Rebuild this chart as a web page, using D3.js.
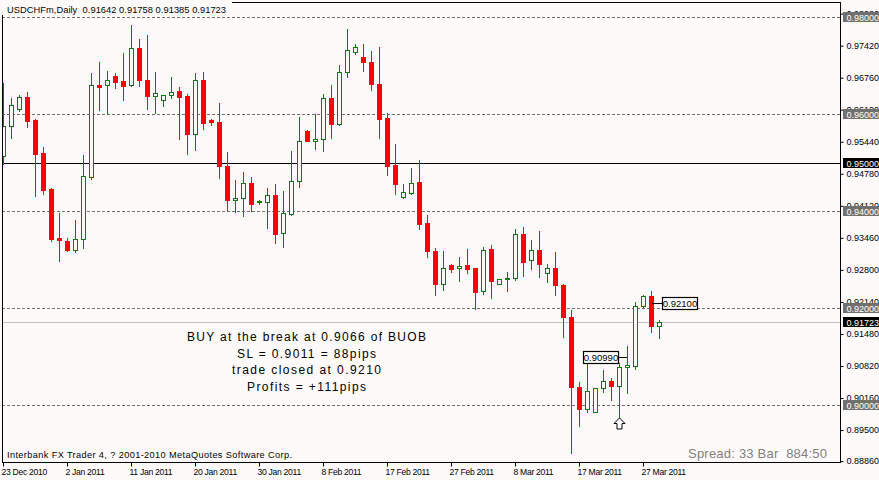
<!DOCTYPE html>
<html><head><meta charset="utf-8">
<script src="https://cdn.jsdelivr.net/npm/d3@7"></script>
<style>html,body{margin:0;padding:0;background:#FFFAFA;}svg{display:block}</style>
</head><body><svg id="c" width="879" height="480"></svg>
<script>
// ---------------- data ----------------
const opens = [0.9513,0.9575,0.9611,0.9635,0.9588,0.9520,0.9446,0.9345,0.9339,0.9319,
0.9342,0.9471,0.9660,0.9659,0.9678,0.9668,0.9659,0.9736,0.9670,0.9638,
0.9628,0.9639,0.9648,0.9638,0.9558,0.9670,0.9588,0.9584,0.9493,0.9422,
0.9427,0.9459,0.9419,0.9418,0.9433,0.9354,0.9394,0.9462,0.9565,0.9545,
0.9548,0.9633,0.9580,0.9686,0.9727,0.9718,0.9707,0.9662,0.9592,0.9495,
0.9430,0.9437,0.9460,0.9376,0.9318,0.9249,0.9290,0.9282,0.9289,0.9282,
0.9235,0.9321,0.9249,0.9260,0.9263,0.9352,0.9299,0.9320,0.9272,0.9282,
0.9248,0.9182,0.9038,0.8993,0.8987,0.9035,0.9050,0.9040,0.9078,0.9081,
0.9205,0.9225,0.91642];
const highs = [0.9663,0.9633,0.9639,0.9645,0.9590,0.9532,0.9448,0.9396,0.9345,0.9382,
0.9516,0.9684,0.9707,0.9689,0.9685,0.9726,0.9784,0.9755,0.9763,0.9686,
0.9639,0.9676,0.9656,0.9641,0.9685,0.9686,0.9590,0.9623,0.9522,0.9464,
0.9481,0.9470,0.9422,0.9448,0.9456,0.9442,0.9524,0.9594,0.9567,0.9600,
0.9641,0.9660,0.9701,0.9775,0.9744,0.9744,0.9730,0.9738,0.9602,0.9538,
0.9456,0.9489,0.9505,0.9392,0.9324,0.9318,0.9292,0.9305,0.9322,0.9283,
0.9326,0.9330,0.9261,0.9275,0.9363,0.9367,0.9341,0.9359,0.9292,0.9315,
0.9250,0.9196,0.9048,0.9089,0.9036,0.9072,0.9056,0.9087,0.9122,0.9213,
0.9228,0.9235,0.91758];
const lows = [0.9497,0.9551,0.9606,0.9573,0.9431,0.9436,0.9339,0.9298,0.9318,0.9316,
0.9325,0.9467,0.9609,0.9600,0.9654,0.9630,0.9658,0.9658,0.9611,0.9603,
0.9617,0.9634,0.9549,0.9518,0.9525,0.9570,0.9577,0.9469,0.9403,0.9399,
0.9389,0.9400,0.9414,0.9366,0.9335,0.9327,0.9393,0.9450,0.9544,0.9529,
0.9523,0.9551,0.9578,0.9677,0.9724,0.9689,0.9650,0.9551,0.9475,0.9435,
0.9428,0.9436,0.9364,0.9306,0.9228,0.9238,0.9275,0.9257,0.9273,0.9199,
0.9230,0.9222,0.9249,0.9235,0.9258,0.9267,0.9280,0.9265,0.9255,0.9228,
0.9140,0.8902,0.8958,0.8987,0.8986,0.9028,0.9010,0.8975,0.9026,0.9075,
0.9202,0.9150,0.91385];
const closes = [0.9575,0.9619,0.9635,0.9586,0.9518,0.9444,0.9343,0.9341,0.9319,0.9342,
0.9472,0.9659,0.9656,0.9670,0.9667,0.9658,0.9736,0.9670,0.9638,0.9643,
0.9639,0.9645,0.9636,0.9558,0.9670,0.9582,0.9583,0.9492,0.9422,0.9427,
0.9459,0.9415,0.9420,0.9433,0.9352,0.9396,0.9462,0.9544,0.9545,0.9549,
0.9633,0.9580,0.9686,0.9731,0.9738,0.9707,0.9661,0.9590,0.9494,0.9455,
0.9440,0.9459,0.9374,0.9317,0.9249,0.9282,0.9281,0.9288,0.9281,0.9234,
0.9319,0.9257,0.9261,0.9262,0.9352,0.9296,0.9319,0.9291,0.9282,0.9247,
0.9181,0.9037,0.8993,0.9029,0.9036,0.9050,0.9040,0.9078,0.9082,0.9204,
0.9225,0.9164,0.91723];

const dateLabels = ["23 Dec 2010","2 Jan 2011","11 Jan 2011","20 Jan 2011","30 Jan 2011",
  "8 Feb 2011","17 Feb 2011","27 Feb 2011","8 Mar 2011","17 Mar 2011","27 Mar 2011"];
const dateLabelBars = [0,8,16,24,32,40,48,56,64,72,80];
const priceTicks = [0.98080,0.97420,0.96760,0.96100,0.95440,0.94780,0.94120,0.93460,
  0.92800,0.92140,0.91480,0.90820,0.90160,0.89500,0.88860];
const dashedLevels = [0.98,0.96,0.94,0.92,0.90];
const solidLevels = [0.95];
const bidLevel = 0.91723;
const titleText = "USDCHFm,Daily  0.91642 0.91758 0.91385 0.91723";
const noteLines = ["BUY at the break at 0.9066 of BUOB","SL = 0.9011 = 88pips",
  "trade closed at 0.9210","Profits = +111pips"];
const noteWidths = [239,139,149,119];
const priceLabels = [{price:0.92100, bar:81, side:"right"},{price:0.90990, bar:78, side:"left"}];
const arrowBar = 77;
const footerText = "Interbank FX Trader 4, ? 2001-2010 MetaQuotes Software Corp.";
const spreadText = "Spread: 33 Bar  884:50";

// ---------------- drawing ----------------
const BG = "#FFFAFA", GREEN = "#008000", RED = "#FF0000", LINE = "#707070";
const FONT = "'Liberation Sans', Arial, sans-serif";
const svg = d3.select("#c");
svg.append("rect").attr("width",879).attr("height",480).attr("fill",BG);

const n = closes.length;
const x = d3.scaleLinear().domain([0, n-1]).range([3, 659]);
const y = d3.scaleLinear().domain([0.88811, 0.98309]).range([463, 2]);
const px = i => Math.round(x(i));
const py = p => Math.round(y(p));

const defs = svg.append("defs");
defs.append("clipPath").attr("id","plot").append("rect").attr("x",3).attr("y",3).attr("width",837).attr("height",459);

// horizontal levels
const lines = svg.append("g").attr("clip-path","url(#plot)");
lines.selectAll(".dl").data(dashedLevels).join("line")
  .attr("x1",2).attr("x2",840).attr("y1",d=>py(d)+0.5).attr("y2",d=>py(d)+0.5)
  .attr("stroke",LINE).attr("stroke-dasharray","3,2");
lines.selectAll(".sl").data(solidLevels).join("line")
  .attr("x1",2).attr("x2",840).attr("y1",d=>py(d)+0.5).attr("y2",d=>py(d)+0.5)
  .attr("stroke","#000");
lines.append("line").attr("x1",2).attr("x2",840)
  .attr("y1",py(bidLevel)+0.5).attr("y2",py(bidLevel)+0.5).attr("stroke","#C0C0C0");

// candles
const data = d3.range(n).map(i=>({i,o:opens[i],h:highs[i],l:lows[i],c:closes[i]}));
const cg = svg.append("g").attr("clip-path","url(#plot)");
const cs = cg.selectAll("g.c").data(data).join("g");
cs.append("line")
  .attr("x1",d=>px(d.i)+0.5).attr("x2",d=>px(d.i)+0.5)
  .attr("y1",d=>py(d.h)).attr("y2",d=>py(d.l)+1)
  .attr("stroke",d=>d.c>=d.o?GREEN:RED);
cs.filter(d=>d.c>=d.o).append("rect")
  .attr("x",d=>px(d.i)-1.5).attr("y",d=>py(d.c)+0.5)
  .attr("width",4).attr("height",d=>Math.max(1,py(d.o)-py(d.c)))
  .attr("fill",BG).attr("stroke",GREEN);
cs.filter(d=>d.c<d.o).append("rect")
  .attr("x",d=>px(d.i)-2).attr("y",d=>py(d.o))
  .attr("width",5).attr("height",d=>Math.max(1,py(d.c)-py(d.o))+1)
  .attr("fill",RED);

// price label objects
const pl = svg.append("g");
priceLabels.forEach(l=>{
  const cx = px(l.bar), yy = py(l.price)+0.5;
  const bx = l.side==="right" ? cx+11 : cx-44;
  const lx1 = l.side==="right" ? cx+1 : cx-9;
  const lx2 = l.side==="right" ? cx+11 : cx;
  pl.append("line").attr("x1",lx1).attr("x2",lx2).attr("y1",yy).attr("y2",yy).attr("stroke","#000");
  pl.append("rect").attr("x",bx+0.5).attr("y",yy-6).attr("width",35).attr("height",12)
    .attr("fill","#fff").attr("stroke","#000").attr("stroke-width",1.2);
  pl.append("text").attr("x",bx+18).attr("y",yy+3.5).attr("text-anchor","middle")
    .attr("font-family",FONT).attr("font-size",9.5).attr("fill","#000")
    .text(d3.format(".5f")(l.price));
});

// arrow
{
  const tx = px(arrowBar)+0.5, ty = py(lows[arrowBar])+1;
  const p = `M${tx},${ty} L${tx+5.5},${ty+5.5} L${tx+2.5},${ty+5.5} L${tx+2.5},${ty+11} L${tx-2.5},${ty+11} L${tx-2.5},${ty+5.5} L${tx-5.5},${ty+5.5} Z`;
  svg.append("path").attr("d",p).attr("fill","#fff").attr("stroke","#000");
}

// frame
svg.append("rect").attr("x",2.5).attr("y",2.5).attr("width",838).attr("height",460)
  .attr("fill","none").attr("stroke","#000");

// title (with background)
svg.append("rect").attr("x",0).attr("y",0).attr("width",232).attr("height",15).attr("fill",BG);
svg.append("text").attr("x",7).attr("y",13.3).attr("font-family",FONT).attr("font-size",9.3)
  .attr("textLength",219).attr("xml:space","preserve").style("white-space","pre").text(titleText);

// note text
svg.append("g").selectAll("text").data(noteLines).join("text")
  .attr("x",306.5).attr("y",(d,i)=>341+i*16.65).attr("text-anchor","middle")
  .attr("font-family",FONT).attr("font-size",12).attr("textLength",(d,i)=>noteWidths[i])
  .text(d=>d);

// footer texts
svg.append("text").attr("x",7).attr("y",457.7).attr("font-family",FONT).attr("font-size",9.2)
  .attr("textLength",285).text(footerText);
svg.append("text").attr("x",688).attr("y",458).attr("font-family",FONT).attr("font-size",13)
  .attr("fill","#808080").attr("textLength",139).style("white-space","pre").text(spreadText);

// price axis
const ya = svg.append("g").attr("transform","translate(840.5,0)")
  .call(d3.axisRight(y).tickValues(priceTicks).tickFormat(d3.format(".5f")).tickSize(3).tickPadding(3));
ya.select(".domain").remove();
ya.selectAll(".tick line").attr("stroke","#000").attr("transform","translate(0,0.5)");
ya.selectAll(".tick text").attr("font-family",FONT).attr("font-size",9).attr("fill","#000");

// level boxes on price axis
const boxes = [...dashedLevels.map(p=>({p,bg:LINE})),...solidLevels.map(p=>({p,bg:"#000"})),{p:bidLevel,bg:"#000"}];
const bg = svg.append("g");
boxes.forEach(b=>{
  const yy = py(b.p);
  bg.append("rect").attr("x",843).attr("y",yy-5).attr("width",40).attr("height",10).attr("fill",b.bg);
  bg.append("text").attr("x",846.5).attr("y",yy+3.5).attr("font-family",FONT).attr("font-size",9)
    .attr("fill","#fff").text(d3.format(".5f")(b.p));
});

// date axis
const xa = svg.append("g").attr("transform","translate(0,462.5)")
  .call(d3.axisBottom(x).tickValues(dateLabelBars).tickFormat((d,i)=>dateLabels[i]).tickSize(4).tickPadding(2));
xa.select(".domain").remove();
xa.selectAll(".tick").attr("transform",d=>`translate(${px(d)+0.5},0)`);
xa.selectAll(".tick line").attr("stroke","#000");
xa.selectAll(".tick text").attr("font-family",FONT).attr("font-size",8.6).attr("fill","#000")
  .attr("text-anchor","start").attr("x",-2).attr("y",0).attr("dy",12.8).attr("letter-spacing",-0.3);
</script></body></html>
